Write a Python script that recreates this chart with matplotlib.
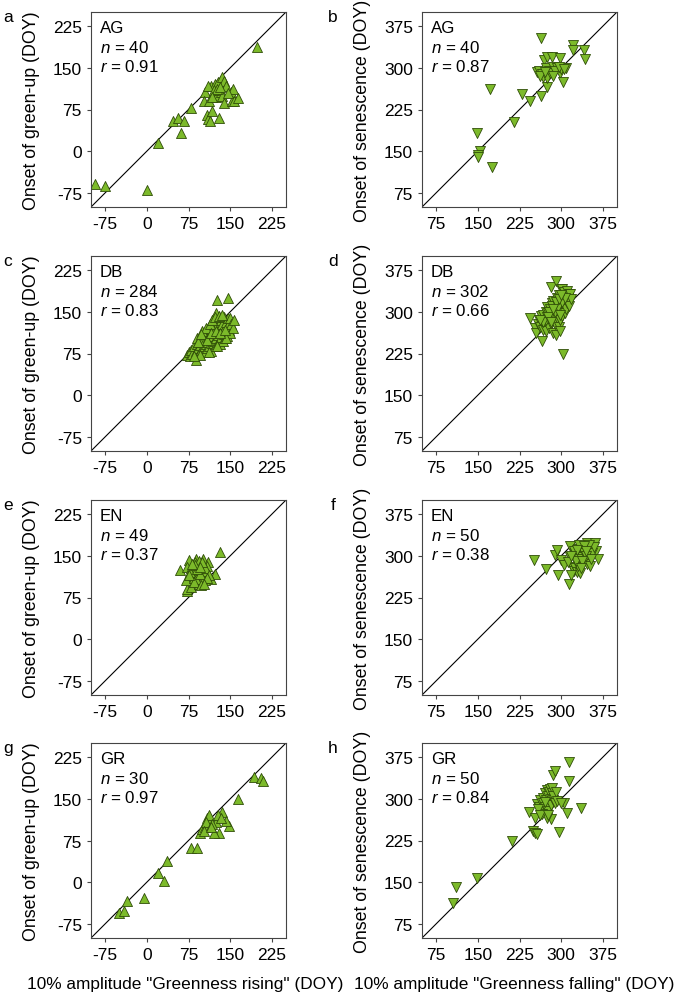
import matplotlib
matplotlib.use('Agg')
import matplotlib.pyplot as plt

plt.rcParams['font.family'] = ['Liberation Sans', 'DejaVu Sans']
plt.rcParams['mathtext.fontset'] = 'custom'
plt.rcParams['mathtext.it'] = 'Liberation Sans:italic'
plt.rcParams['mathtext.rm'] = 'Liberation Sans'
plt.rcParams['axes.unicode_minus'] = False

# AG green-up (a)
ag_up_x = [-92, -75, 0, 20, 48, 56, 67, 62, 80, 105, 102, 111, 108, 110, 113, 117, 130, 122, 125, 116,
           122, 128, 135, 139, 142, 133, 136, 138, 151, 155, 153, 157, 164, 198, 110, 120, 126, 131, 118, 145]
ag_up_y = [-59, -62, -70, 14, 55, 60, 54, 33, 78, 106, 90, 90, 66, 58, 55, 72, 60, 103, 97, 117,
           120, 124, 133, 127, 117, 106, 100, 86, 106, 112, 90, 91, 96, 187, 117, 110, 112, 115, 98, 105]
# AG senescence (b)
ag_sen_x = [263, 148, 154, 150, 151, 176, 172, 215, 230, 244, 263, 274, 256, 260, 265, 268, 269, 275, 283, 272,
            278, 285, 292, 298, 300, 298, 309, 303, 321, 321, 340, 342, 274, 262, 280, 288, 295, 305, 270, 285]
ag_sen_y = [353, 183, 151, 143, 139, 122, 261, 202, 252, 240, 249, 266, 293, 295, 288, 283, 314, 320, 320, 300,
            295, 302, 300, 290, 298, 318, 299, 274, 340, 331, 331, 315, 281, 285, 290, 295, 302, 297, 292, 285]
# DB green-up (c)
db_up_x = [72, 75, 78, 80, 82, 85, 88, 88, 90, 90, 92, 94, 95, 96, 98, 100, 100, 102, 103, 104,
           105, 106, 108, 108, 110, 110, 112, 112, 114, 115, 116, 117, 118, 119, 120, 120, 122, 123, 124, 124,
           125, 126, 127, 128, 128, 130, 130, 132, 132, 134, 134, 135, 136, 137, 138, 138, 140, 140, 142, 142,
           144, 145, 145, 146, 148, 148, 150, 150, 152, 154, 157, 143, 126, 112, 96, 84, 100, 106, 114, 118,
           122, 130, 136, 92, 98, 108, 116, 124, 132, 140]
db_up_y = [73, 78, 70, 82, 75, 88, 64, 80, 103, 92, 85, 76, 98, 90, 82, 105, 95, 88, 110, 78,
           100, 92, 115, 85, 105, 96, 120, 88, 110, 100, 80, 93, 118, 106, 125, 98, 88, 112, 148, 102,
           120, 92, 171, 130, 108, 115, 98, 125, 92, 135, 105, 118, 128, 98, 140, 110, 122, 103, 132, 115,
           106, 174, 138, 125, 118, 130, 139, 112, 128, 120, 136, 103, 88, 78, 72, 70, 115, 120, 128, 135,
           140, 142, 145, 95, 110, 100, 112, 116, 112, 118]
# DB senescence (d)
db_sen_x = [244, 252, 255, 258, 260, 262, 263, 265, 266, 267, 268, 270, 271, 272, 273, 274, 275, 276, 277, 278,
            279, 280, 281, 281, 282, 283, 284, 285, 285, 286, 287, 288, 289, 290, 291, 291, 292, 292, 293, 294,
            295, 295, 296, 297, 298, 298, 299, 300, 300, 301, 302, 303, 303, 304, 305, 306, 307, 308, 309, 310,
            311, 312, 313, 314, 316, 318, 288, 284, 278, 272, 268, 262, 276, 282, 294, 298, 302, 306, 290, 286,
            296, 300]
db_sen_y = [289, 270, 262, 278, 285, 272, 292, 280, 248, 268, 295, 285, 275, 300, 265, 290, 308, 280, 298, 270,
            288, 305, 344, 278, 295, 315, 285, 262, 300, 320, 292, 278, 310, 300, 356, 259, 325, 288, 315, 298,
            330, 272, 308, 285, 320, 266, 340, 300, 315, 341, 292, 224, 325, 308, 335, 298, 318, 328, 305, 338,
            315, 325, 332, 310, 332, 322, 300, 310, 300, 285, 282, 285, 290, 282, 308, 295, 318, 325, 318, 305,
            322, 330]
# EN green-up (e)
en_up_x = [60, 72, 72, 79, 76, 89, 101, 110, 132, 122, 116, 104, 92, 73, 76, 70, 85, 82, 88, 92,
           95, 98, 100, 96, 84, 80, 90, 86, 94, 102, 106, 108, 99, 93, 78, 88, 96, 104, 112, 84,
           91, 100, 75, 98, 108, 87, 95, 81, 103]
en_up_y = [124, 86, 91, 94, 142, 145, 145, 139, 157, 118, 109, 107, 103, 130, 109, 107, 124, 118, 130, 121,
           112, 125, 118, 135, 110, 128, 115, 138, 100, 110, 122, 132, 106, 140, 120, 108, 118, 128, 115, 102,
           127, 138, 115, 98, 110, 134, 130, 135, 100]
# EN senescence (f)
en_sen_x = [251, 272, 294, 289, 293, 299, 305, 314, 316, 316, 320, 322, 325, 328, 333, 330, 318, 330, 333, 336,
            342, 346, 361, 363, 366, 345, 350, 346, 352, 348, 338, 325, 330, 335, 340, 355, 358, 344, 326, 322,
            338, 350, 332, 340, 328, 354, 312, 336, 318, 345]
en_sen_y = [293, 277, 266, 302, 310, 293, 283, 250, 318, 297, 280, 272, 278, 270, 269, 282, 266, 312, 305, 300,
            310, 323, 323, 309, 294, 295, 300, 285, 282, 312, 298, 303, 295, 315, 305, 305, 315, 300, 290, 308,
            290, 320, 320, 318, 310, 295, 288, 278, 300, 308]
# GR green-up (g)
gr_up_x = [-50, -41, -35, -4, 20, 31, 37, 80, 91, 96, 100, 104, 109, 112, 124, 136, 130, 121, 148, 142,
           164, 193, 205, 208, 106, 118, 128, 134, 102, 115]
gr_up_y = [-55, -51, -33, -28, 16, 3, 38, 61, 61, 89, 95, 100, 115, 120, 109, 127, 89, 89, 101, 110,
           149, 189, 188, 182, 108, 105, 120, 115, 92, 100]
# GR senescence (h)
gr_sen_x = [106, 111, 148, 211, 249, 252, 256, 242, 252, 286, 289, 313, 313, 310, 335, 304, 295, 281, 274, 256,
            260, 262, 265, 267, 268, 270, 271, 272, 274, 275, 276, 277, 278, 279, 280, 281, 282, 283, 284, 285,
            286, 288, 290, 292, 266, 258, 262, 276, 300, 270]
gr_sen_y = [113, 141, 158, 224, 242, 238, 236, 277, 266, 342, 350, 366, 332, 274, 283, 292, 240, 263, 266, 290,
            285, 298, 280, 302, 292, 310, 285, 298, 315, 290, 305, 278, 312, 295, 318, 300, 288, 310, 320, 298,
            305, 292, 312, 296, 272, 282, 270, 270, 292, 295]

panels = [
    ('a', 'AG', 40, 0.91, ag_up_x, ag_up_y, 'up'),
    ('b', 'AG', 40, 0.87, ag_sen_x, ag_sen_y, 'sen'),
    ('c', 'DB', 284, 0.83, db_up_x, db_up_y, 'up'),
    ('d', 'DB', 302, 0.66, db_sen_x, db_sen_y, 'sen'),
    ('e', 'EN', 49, 0.37, en_up_x, en_up_y, 'up'),
    ('f', 'EN', 50, 0.38, en_sen_x, en_sen_y, 'sen'),
    ('g', 'GR', 30, 0.97, gr_up_x, gr_up_y, 'up'),
    ('h', 'GR', 50, 0.84, gr_sen_x, gr_sen_y, 'sen'),
]

fig = plt.figure(figsize=(6.85, 10.03), dpi=100)
W, H = 685, 1003
col_left = [91, 422]
row_top = [13, 257, 501, 744]
size = 195

for i, (letter, name, n, r, xs, ys, kind) in enumerate(panels):
    row, col = i // 2, i % 2
    l = col_left[col] / W
    b = 1 - (row_top[row] + size) / H
    ax = fig.add_axes([l, b, size / W, size / H])
    if kind == 'up':
        lim = (-100, 250)
        ticks = [-75, 0, 75, 150, 225]
        marker = '^'
        ylab = 'Onset of green-up (DOY)'
    else:
        lim = (50, 400)
        ticks = [75, 150, 225, 300, 375]
        marker = 'v'
        ylab = 'Onset of senescence (DOY)'
    ax.plot(lim, lim, color='black', lw=0.8, zorder=1)
    ax.scatter(xs, ys, marker=marker, s=52, facecolor='#7cba2a',
               edgecolor='#2f4d08', linewidth=0.6, zorder=2)
    ax.set_xlim(lim)
    ax.set_ylim(lim)
    ax.set_xticks(ticks)
    ax.set_yticks(ticks)
    ax.tick_params(labelsize=12.5, length=3, width=0.8, color='#444444')
    for s in ax.spines.values():
        s.set_color('#444444')
        s.set_linewidth(0.8)
    ax.set_ylabel(ylab, fontsize=12.8)
    ax.yaxis.set_label_coords(-0.262, 0.5)
    ax.text(0.045, 0.96, name, transform=ax.transAxes, fontsize=12.2, va='top')
    ax.text(0.045, 0.862, '$n$ = %d' % n, transform=ax.transAxes, fontsize=12.2, va='top')
    ax.text(0.045, 0.764, '$r$ = %.2f' % r, transform=ax.transAxes, fontsize=12.2, va='top')
    lx = 8 if col == 0 else 333
    fig.text(lx / W, 1 - (row_top[row] + 5) / H, letter, fontsize=12.5, ha='center', va='center')

fig.text(185 / W, 1 - 985 / H, '10% amplitude "Greenness rising" (DOY)', fontsize=12.4, ha='center', va='center')
fig.text(514 / W, 1 - 985 / H, '10% amplitude "Greenness falling" (DOY)', fontsize=12.4, ha='center', va='center')

fig.savefig('out.png', dpi=100)
